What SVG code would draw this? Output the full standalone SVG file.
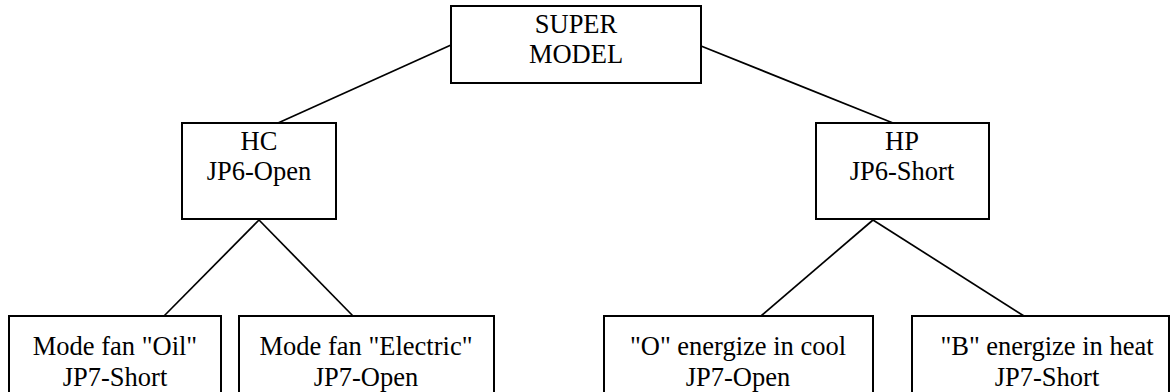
<svg xmlns="http://www.w3.org/2000/svg" width="1176" height="392" viewBox="0 0 1176 392">
<style>
.box{fill:#fff;stroke:#000;stroke-width:2}
.t{font-family:"Liberation Serif","Times New Roman",serif;font-size:26.5px;fill:#000;text-anchor:middle}
.c line{stroke:#000;stroke-width:1.7}
</style>
<rect width="1176" height="392" fill="#fff"/>
<g class="c" id="connectors">
<line x1="451" y1="45" x2="278" y2="123"/>
<line x1="701" y1="46" x2="893" y2="123"/>
<line x1="259" y1="220" x2="164" y2="316"/>
<line x1="259" y1="220" x2="353" y2="316"/>
<line x1="873" y1="220" x2="761" y2="316"/>
<line x1="873" y1="220" x2="1024" y2="316"/>
</g>
<g id="super">
<rect class="box" x="451" y="6" width="250" height="77"/>
<text class="t" x="576" y="33">SUPER</text>
<text class="t" x="576" y="63">MODEL</text>
</g>
<g id="hc">
<rect class="box" x="182" y="123" width="154" height="96"/>
<text class="t" x="259" y="150">HC</text>
<text class="t" x="259" y="180">JP6-Open</text>
</g>
<g id="hp">
<rect class="box" x="816" y="123" width="173" height="96"/>
<text class="t" x="902" y="150">HP</text>
<text class="t" x="902" y="180">JP6-Short</text>
</g>
<g id="oil">
<rect class="box" x="9" y="316" width="212" height="90"/>
<text class="t" x="115" y="355">Mode fan "Oil"</text>
<text class="t" x="115" y="386">JP7-Short</text>
</g>
<g id="electric">
<rect class="box" x="239" y="316" width="255" height="90"/>
<text class="t" x="366" y="355">Mode fan "Electric"</text>
<text class="t" x="366" y="386">JP7-Open</text>
</g>
<g id="ocool">
<rect class="box" x="604" y="316" width="269" height="90"/>
<text class="t" x="738" y="355">"O" energize in cool</text>
<text class="t" x="738" y="386">JP7-Open</text>
</g>
<g id="bheat">
<rect class="box" x="912" y="316" width="257" height="90"/>
<text class="t" x="1047" y="355">"B" energize in heat</text>
<text class="t" x="1047" y="386">JP7-Short</text>
</g>
</svg>
